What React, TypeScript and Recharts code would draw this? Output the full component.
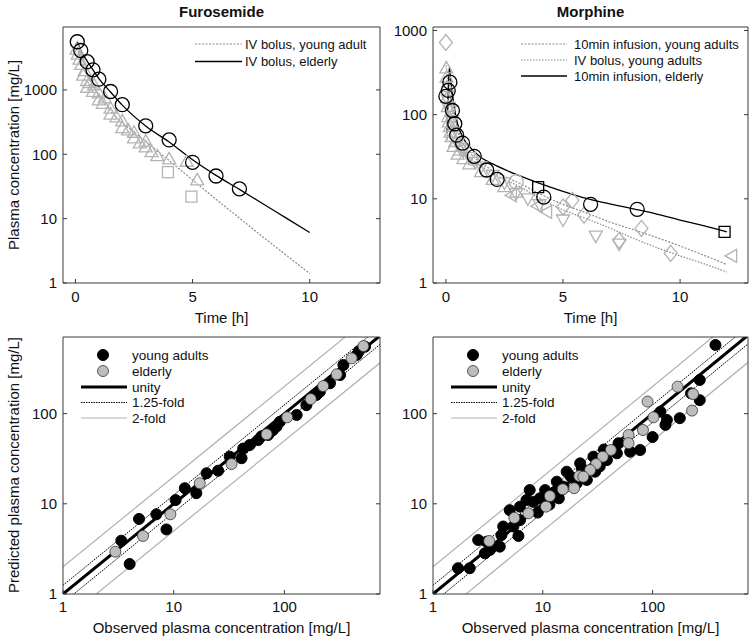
import React from "react";
import { ComposedChart, Line, Scatter, XAxis, YAxis } from "recharts";

const FONT = "'Liberation Sans', Arial, Helvetica, sans-serif";
const AXIS = "#3a3a3a";
const GREY_MARK = "#b3b3b3";
const GREY_LINE = "#8a8a8a";
const GREY_FILL = "#bdbdbd";
const FOLD_GREY = "#b0b0b0";

// ---- ticks ----
const timeTicks = [0, 5, 10];
const concTicks = [1, 10, 100, 1000];
const gofTicks = [1, 10, 100];

// ---- Furosemide, concentration vs time ----
const furoYoungLineT = [0.08, 0.2, 0.35, 0.5, 0.75, 1, 1.33, 1.5, 2, 2.5, 3, 3.5, 4, 5, 6, 7, 8, 9, 10];
const furoYoungLineC = [4600, 3200, 2300, 1750, 1150, 820, 560, 470, 310, 220, 160, 112, 80, 40, 20, 10.2, 5.2, 2.7, 1.4];
const furoElderlyLineT = [0.08, 0.25, 0.5, 0.75, 1, 1.5, 2, 3, 4, 5, 6, 7, 8, 9, 10];
const furoElderlyLineC = [5600, 4000, 2800, 2050, 1500, 930, 580, 275, 155, 82, 47, 28.5, 17, 10.2, 6.1];
const furoElderlyObsT = [0.08, 0.23, 0.5, 0.75, 1, 1.5, 2, 3, 4, 5, 6, 7];
const furoElderlyObsC = [5600, 4100, 2750, 2050, 1470, 945, 590, 277, 167, 75, 46, 29];
const furoYoungTriT = [0.05, 0.1, 0.17, 0.25, 0.33, 0.4, 0.5, 0.5, 0.6, 0.75, 0.8, 1, 1, 1.17, 1.25, 1.5, 1.5, 1.75, 2, 2, 2.25, 2.5, 2.5, 2.75, 3, 3, 3.25, 3.5, 4, 4.75, 5.2];
const furoYoungTriC = [4300, 3600, 3000, 2500, 1700, 2000, 1400, 1100, 1300, 950, 1200, 700, 900, 620, 750, 420, 520, 380, 260, 330, 240, 180, 220, 150, 130, 160, 110, 95, 85, 78, 40];
const furoYoungSqT = [3.95, 4.95];
const furoYoungSqC = [53, 22];

// ---- Morphine, concentration vs time ----
const morphInfYoungT = [0.05, 0.1, 0.167, 0.25, 0.4, 0.5, 0.75, 1, 1.75, 2.5, 3.16, 4, 4.86, 6, 7, 8, 8.83, 10, 11, 12];
const morphInfYoungC = [50, 150, 290, 170, 95, 72, 45, 36, 24, 18.5, 15.2, 11.5, 8.9, 6.8, 5.3, 4.3, 3.6, 2.75, 2.15, 1.65];
const morphBolusYoungT = [0, 0.05, 0.1, 0.167, 0.25, 0.4, 0.5, 0.75, 1, 1.75, 2.5, 3.16, 4, 4.86, 6, 7, 8, 8.83, 10, 11, 12];
const morphBolusYoungC = [420, 300, 230, 170, 130, 85, 65, 40, 32, 22, 17, 13.9, 10.2, 7.7, 5.8, 4.5, 3.4, 2.75, 2.1, 1.7, 1.35];
const morphInfElderlyT = [0.05, 0.1, 0.15, 0.2, 0.3, 0.4, 0.5, 0.75, 1, 1.5, 2, 3, 4, 5, 6, 7, 8, 9, 10, 11, 12];
const morphInfElderlyC = [60, 200, 370, 270, 160, 105, 78, 52, 42, 31, 26, 19.5, 15.3, 12.3, 10.1, 8.7, 7.6, 6.6, 5.6, 4.8, 4.05];
const morphElderlyObsT = [0, 0.1, 0.17, 0.28, 0.38, 0.46, 0.71, 1.21, 1.74, 2.19, 4.18, 6.18, 8.17];
const morphElderlyObsC = [165, 194, 243, 112, 78, 57, 46, 32, 22, 17, 10.5, 8.6, 7.5];
const morphElderlySqT = [3.94, 11.9];
const morphElderlySqC = [13.8, 4.05];
const morphYoungUpT = [0.02, 0.03, 0.05, 0.05, 0.08, 0.1, 0.12, 0.17, 0.2, 0.25, 0.33, 0.4, 0.5, 0.6, 0.75, 1, 1.25, 1.5, 2, 2.5, 3];
const morphYoungUpC = [360, 280, 215, 160, 125, 95, 82, 72, 62, 55, 42, 48, 34, 38, 30, 26, 29, 21, 17, 14, 12];
const morphYoungDownT = [0.08, 0.12, 0.17, 0.25, 0.33, 0.5, 0.6, 0.75, 1, 1.25, 1.5, 2, 2.5, 3, 3.5, 4, 5, 6.4, 7.4];
const morphYoungDownC = [150, 120, 110, 85, 62, 46, 40, 38, 31, 27, 24, 19, 15.5, 11.5, 10, 8.5, 5.6, 3.6, 2.9];
const morphYoungLeftT = [2.8, 3.9, 4.3, 12.2];
const morphYoungLeftC = [11, 8.2, 7.0, 2.1];
const morphYoungDiaT = [0, 5.0, 5.4, 5.9, 7.4, 8.35, 9.6];
const morphYoungDiaC = [720, 8.0, 9.6, 6.4, 3.2, 4.45, 2.25];
const morphYoungCircT = [3.0];
const morphYoungCircC = [16];

// ---- reference lines (observed vs predicted) ----
const refX = [1, 1000];
const unityY = [1, 1000];
const fold125UpY = [1.25, 1250];
const fold125DnY = [0.8, 800];
const fold2UpY = [2, 2000];
const fold2DnY = [0.5, 500];

// ---- Furosemide, predicted vs observed ----
const furoGofYoungObs = [3.36, 4.0, 4.86, 6.97, 8.6, 10.4, 12.6, 16, 19.8, 25.2, 32.1, 41, 42.4, 48.7, 58, 62, 71.3, 75, 79, 85, 91, 129, 158, 195, 209, 258, 318, 341, 450, 470, 535];
const furoGofYoungPred = [3.9, 2.15, 6.8, 7.65, 5.2, 11, 14.9, 13.1, 21.8, 23.3, 33.3, 32, 41, 44.9, 51, 56, 58, 63, 65.8, 72, 81.3, 96.6, 124, 161, 175, 217, 268, 346, 447, 490, 552];
const furoGofElderlyObs = [2.97, 5.28, 9.33, 17.2, 33.3, 69, 106, 173, 224, 297, 405, 517];
const furoGofElderlyPred = [2.94, 4.4, 7.65, 16.9, 27.6, 59, 91, 145, 202, 273, 410, 561];

// ---- Morphine, predicted vs observed ----
const morphGofYoungObs = [374, 269, 269, 224, 177, 131, 135, 118, 100, 77, 62.5, 49, 47.3, 38.4, 36, 33, 28.9, 30, 25.2, 22.7, 21.9, 20.4, 18, 16.5, 15.4, 14, 13.4, 12.9, 11.5, 10.5, 9.4, 9, 8.2, 7.6, 7.1, 6.2, 6.2, 5.4, 5.0, 4.36, 4.2, 6.0, 4.06, 3.07, 2.58, 2.97, 3.3, 2.16, 1.69];
const morphGofYoungPred = [577, 236, 141, 168, 89, 75, 85, 105, 55, 39.5, 37.8, 47, 36.3, 30.6, 40, 26, 33.3, 22.7, 18.4, 24.8, 28.1, 16.9, 20, 22.7, 15.5, 11.5, 17.6, 13.6, 9.8, 14.2, 11.5, 8, 10.5, 14.2, 11, 9.3, 6.6, 5.6, 8.5, 5.6, 4.5, 4.4, 3.35, 3.8, 3.97, 2.83, 3.08, 1.93, 1.93];
const morphGofElderlyObs = [169, 234, 229, 90, 102, 81.7, 60.4, 60.4, 41.7, 35.2, 30.6, 27, 21.5, 23.4, 19.3, 15.2, 11.6, 10.7, 7.4, 5.5, 3.25];
const morphGofElderlyPred = [199, 165, 108, 136, 91, 65.8, 58, 47, 39.5, 33.3, 27.6, 23.7, 20.3, 20, 14.9, 14.5, 12.2, 9.3, 7.85, 7.0, 3.87];

type Pt = { x: number; y: number };
const pts = (xs: number[], ys: number[]): Pt[] => xs.map((x, i) => ({ x, y: ys[i] }));

type ShapeProps = { cx?: number; cy?: number };

const ring = (r: number, stroke: string, fill = "none", sw = 1.3) => (p: ShapeProps) => (
  <circle cx={p.cx} cy={p.cy} r={r} fill={fill} stroke={stroke} strokeWidth={sw} />
);

const poly = (offsets: number[][], stroke: string) => (p: ShapeProps) => {
  const cx = p.cx ?? 0;
  const cy = p.cy ?? 0;
  return (
    <polygon
      points={offsets.map(([dx, dy]) => `${cx + dx},${cy + dy}`).join(" ")}
      fill="none"
      stroke={stroke}
      strokeWidth={1.3}
    />
  );
};

const TRI_UP = [[0, -6.5], [6.5, 5], [-6.5, 5]];
const TRI_DOWN = [[0, 6.5], [6.5, -5], [-6.5, -5]];
const TRI_LEFT = [[-6.5, 0], [5, -6.5], [5, 6.5]];
const DIAMOND = [[0, -8], [6.5, 0], [0, 8], [-6.5, 0]];
const SQUARE = [[-5.5, -5.5], [5.5, -5.5], [5.5, 5.5], [-5.5, 5.5]];

type FrameOpts = {
  xDomain: [number, number];
  xTicks: number[];
  xLog?: boolean;
  yDomain: [number, number];
  yTicks: number[];
  yWidth: number;
  xHeight: number;
  xMargin: number;
};

function frame(o: FrameOpts) {
  const tickFont = { fill: "#111", fontSize: 15, fontFamily: FONT };
  const scaleX = o.xLog ? "log" : "linear";
  return [
    <XAxis key="xb" xAxisId="b" type="number" dataKey="x" orientation="bottom" scale={scaleX}
      domain={o.xDomain} ticks={o.xTicks} allowDataOverflow interval={0} height={o.xHeight}
      tickSize={-4} tickMargin={o.xMargin} stroke={AXIS} tick={tickFont} />,
    <XAxis key="xt" xAxisId="t" type="number" orientation="top" scale={scaleX}
      domain={o.xDomain} ticks={o.xTicks} allowDataOverflow interval={0} height={1}
      tickSize={-4} stroke={AXIS} tickFormatter={() => ""} />,
    <YAxis key="yl" yAxisId="l" type="number" dataKey="y" orientation="left" scale="log"
      domain={o.yDomain} ticks={o.yTicks} allowDataOverflow interval={0} width={o.yWidth}
      tickSize={-4} tickMargin={10} stroke={AXIS} tick={tickFont} />,
    <YAxis key="yr" yAxisId="r" type="number" orientation="right" scale="log"
      domain={o.yDomain} ticks={o.yTicks} allowDataOverflow interval={0} width={1}
      tickSize={-4} stroke={AXIS} tickFormatter={() => ""} />,
  ];
}

const ids = { xAxisId: "b", yAxisId: "l" };

function foldLines() {
  return [
    <Line key="f2u" {...ids} data={pts(refX, fold2UpY)} dataKey="y" type="linear" stroke={FOLD_GREY} strokeWidth={1.2} dot={false} activeDot={false} isAnimationActive={false} />,
    <Line key="f2d" {...ids} data={pts(refX, fold2DnY)} dataKey="y" type="linear" stroke={FOLD_GREY} strokeWidth={1.2} dot={false} activeDot={false} isAnimationActive={false} />,
    <Line key="f1u" {...ids} data={pts(refX, fold125UpY)} dataKey="y" type="linear" stroke="#000" strokeWidth={1} strokeDasharray="1.5 1" dot={false} activeDot={false} isAnimationActive={false} />,
    <Line key="f1d" {...ids} data={pts(refX, fold125DnY)} dataKey="y" type="linear" stroke="#000" strokeWidth={1} strokeDasharray="1.5 1" dot={false} activeDot={false} isAnimationActive={false} />,
    <Line key="u" {...ids} data={pts(refX, unityY)} dataKey="y" type="linear" stroke="#000" strokeWidth={3} dot={false} activeDot={false} isAnimationActive={false} />,
  ];
}

function GofLegend({ dx }: { dx: number }) {
  const tx = 132 + dx;
  const t = { fontSize: 13.5, fontFamily: FONT, fill: "#111", dominantBaseline: "central" as const };
  return (
    <g>
      <circle cx={103 + dx} cy={355} r={5.5} fill="#000" stroke="#000" />
      <text x={tx} y={355} {...t}>young adults</text>
      <circle cx={103 + dx} cy={371} r={5.5} fill={GREY_FILL} stroke="#333" strokeWidth={0.8} />
      <text x={tx} y={371} {...t}>elderly</text>
      <line x1={81 + dx} x2={127 + dx} y1={387} y2={387} stroke="#000" strokeWidth={3} />
      <text x={tx} y={387} {...t}>unity</text>
      <line x1={81 + dx} x2={127 + dx} y1={402.5} y2={402.5} stroke="#000" strokeWidth={1} strokeDasharray="1.5 1" />
      <text x={tx} y={402.5} {...t}>1.25-fold</text>
      <line x1={81 + dx} x2={127 + dx} y1={418} y2={418} stroke={FOLD_GREY} strokeWidth={1.2} />
      <text x={tx} y={418} {...t}>2-fold</text>
    </g>
  );
}

export default function App() {
  const lbl = { fontSize: 15, fontFamily: FONT, fill: "#111", textAnchor: "middle" as const, dominantBaseline: "central" as const };
  const leg = { fontSize: 13, fontFamily: FONT, fill: "#111", dominantBaseline: "central" as const };
  const titleFont = "'Liberation Sans Narrow', 'Liberation Sans', Arial, sans-serif";
  return (
    <div style={{ position: "absolute", left: 0, top: 0, width: 750, height: 636, background: "#fff" }}>
      {/* Furosemide: concentration vs time */}
      <div style={{ position: "absolute", left: 0, top: 0 }}>
        <ComposedChart width={390} height={320} margin={{ top: 26, right: 9, bottom: 0, left: 0 }}>
          {frame({ xDomain: [-0.53, 13], xTicks: timeTicks, yDomain: [1, 9500], yTicks: concTicks, yWidth: 63, xHeight: 37, xMargin: 12 })}
          <Scatter {...ids} data={pts(furoYoungTriT, furoYoungTriC)} shape={poly(TRI_UP, GREY_MARK)} isAnimationActive={false} />
          <Scatter {...ids} data={pts(furoYoungSqT, furoYoungSqC)} shape={poly(SQUARE, GREY_MARK)} isAnimationActive={false} />
          <Line {...ids} data={pts(furoYoungLineT, furoYoungLineC)} dataKey="y" type="monotone" stroke={GREY_LINE} strokeWidth={1.2} strokeDasharray="2 1.5" dot={false} activeDot={false} isAnimationActive={false} />
          <Scatter {...ids} data={pts(furoElderlyObsT, furoElderlyObsC)} shape={ring(7, "#000")} isAnimationActive={false} />
          <Line {...ids} data={pts(furoElderlyLineT, furoElderlyLineC)} dataKey="y" type="monotone" stroke="#000" strokeWidth={1.3} dot={false} activeDot={false} isAnimationActive={false} />
        </ComposedChart>
      </div>

      {/* Morphine: concentration vs time */}
      <div style={{ position: "absolute", left: 380, top: 0 }}>
        <ComposedChart width={370} height={320} margin={{ top: 26, right: 1, bottom: 0, left: 0 }}>
          {frame({ xDomain: [-0.55, 12.9], xTicks: timeTicks, yDomain: [1, 1100], yTicks: concTicks, yWidth: 53, xHeight: 37, xMargin: 12 })}
          <Scatter {...ids} data={pts(morphYoungUpT, morphYoungUpC)} shape={poly(TRI_UP, GREY_MARK)} isAnimationActive={false} />
          <Scatter {...ids} data={pts(morphYoungDownT, morphYoungDownC)} shape={poly(TRI_DOWN, GREY_MARK)} isAnimationActive={false} />
          <Scatter {...ids} data={pts(morphYoungLeftT, morphYoungLeftC)} shape={poly(TRI_LEFT, GREY_MARK)} isAnimationActive={false} />
          <Scatter {...ids} data={pts(morphYoungDiaT, morphYoungDiaC)} shape={poly(DIAMOND, GREY_MARK)} isAnimationActive={false} />
          <Scatter {...ids} data={pts(morphYoungCircT, morphYoungCircC)} shape={ring(7, GREY_MARK)} isAnimationActive={false} />
          <Line {...ids} data={pts(morphInfYoungT, morphInfYoungC)} dataKey="y" type="monotone" stroke={GREY_LINE} strokeWidth={1.2} strokeDasharray="2 1.5" dot={false} activeDot={false} isAnimationActive={false} />
          <Line {...ids} data={pts(morphBolusYoungT, morphBolusYoungC)} dataKey="y" type="monotone" stroke={GREY_LINE} strokeWidth={1.2} strokeDasharray="1.5 1.5" dot={false} activeDot={false} isAnimationActive={false} />
          <Scatter {...ids} data={pts(morphElderlyObsT, morphElderlyObsC)} shape={ring(7, "#000")} isAnimationActive={false} />
          <Scatter {...ids} data={pts(morphElderlySqT, morphElderlySqC)} shape={poly(SQUARE, "#000")} isAnimationActive={false} />
          <Line {...ids} data={pts(morphInfElderlyT, morphInfElderlyC)} dataKey="y" type="monotone" stroke="#000" strokeWidth={1.3} dot={false} activeDot={false} isAnimationActive={false} />
        </ComposedChart>
      </div>

      {/* Furosemide: predicted vs observed */}
      <div style={{ position: "absolute", left: 0, top: 320 }}>
        <ComposedChart width={390} height={316} margin={{ top: 16, right: 9, bottom: 0, left: 0 }}>
          {frame({ xDomain: [1, 730], xTicks: gofTicks, xLog: true, yDomain: [1, 707], yTicks: gofTicks, yWidth: 63, xHeight: 42, xMargin: 11 })}
          {foldLines()}
          <Scatter {...ids} data={pts(furoGofYoungObs, furoGofYoungPred)} shape={ring(5.5, "#000", "#000", 1)} isAnimationActive={false} />
          <Scatter {...ids} data={pts(furoGofElderlyObs, furoGofElderlyPred)} shape={ring(5.5, "#333", GREY_FILL, 0.8)} isAnimationActive={false} />
        </ComposedChart>
      </div>

      {/* Morphine: predicted vs observed */}
      <div style={{ position: "absolute", left: 380, top: 320 }}>
        <ComposedChart width={370} height={316} margin={{ top: 16, right: 1, bottom: 0, left: 0 }}>
          {frame({ xDomain: [1, 740], xTicks: gofTicks, xLog: true, yDomain: [1, 707], yTicks: gofTicks, yWidth: 53, xHeight: 42, xMargin: 11 })}
          {foldLines()}
          <Scatter {...ids} data={pts(morphGofYoungObs, morphGofYoungPred)} shape={ring(5.5, "#000", "#000", 1)} isAnimationActive={false} />
          <Scatter {...ids} data={pts(morphGofElderlyObs, morphGofElderlyPred)} shape={ring(5.5, "#333", GREY_FILL, 0.8)} isAnimationActive={false} />
        </ComposedChart>
      </div>

      {/* titles, axis labels, legends */}
      <svg width={750} height={636} style={{ position: "absolute", left: 0, top: 0, pointerEvents: "none" }}>
        <text x={221.5} y={11} {...lbl} fontSize={15} fontWeight="bold" fontFamily={titleFont}>Furosemide</text>
        <text x={590.5} y={11} {...lbl} fontSize={15} fontWeight="bold" fontFamily={titleFont}>Morphine</text>
        <text x={221.5} y={317} {...lbl}>Time [h]</text>
        <text x={590.5} y={317} {...lbl}>Time [h]</text>
        <text x={221.5} y={627} {...lbl}>Observed plasma concentration [mg/L]</text>
        <text x={590.5} y={627} {...lbl}>Observed plasma concentration [mg/L]</text>
        <text transform="translate(13,155) rotate(-90)" {...lbl}>Plasma concentration [mg/L]</text>
        <text transform="translate(13,465) rotate(-90)" {...lbl}>Predicted plasma concentration [mg/L]</text>

        <line x1={195} x2={242} y1={44} y2={44} stroke={GREY_LINE} strokeWidth={1.2} strokeDasharray="2 1.5" />
        <text x={245} y={44} {...leg}>IV bolus, young adult</text>
        <line x1={195} x2={242} y1={61.5} y2={61.5} stroke="#000" strokeWidth={1.3} />
        <text x={245} y={61.5} {...leg}>IV bolus, elderly</text>

        <line x1={521} x2={567} y1={44} y2={44} stroke={GREY_LINE} strokeWidth={1.2} strokeDasharray="2 1.5" />
        <text x={574} y={44} {...leg}>10min infusion, young adults</text>
        <line x1={521} x2={567} y1={60} y2={60} stroke={GREY_LINE} strokeWidth={1.2} strokeDasharray="1.5 1.5" />
        <text x={574} y={60} {...leg}>IV bolus, young adults</text>
        <line x1={521} x2={567} y1={76} y2={76} stroke="#000" strokeWidth={1.3} />
        <text x={574} y={76} {...leg}>10min infusion, elderly</text>

        <GofLegend dx={0} />
        <GofLegend dx={370} />
      </svg>
    </div>
  );
}
